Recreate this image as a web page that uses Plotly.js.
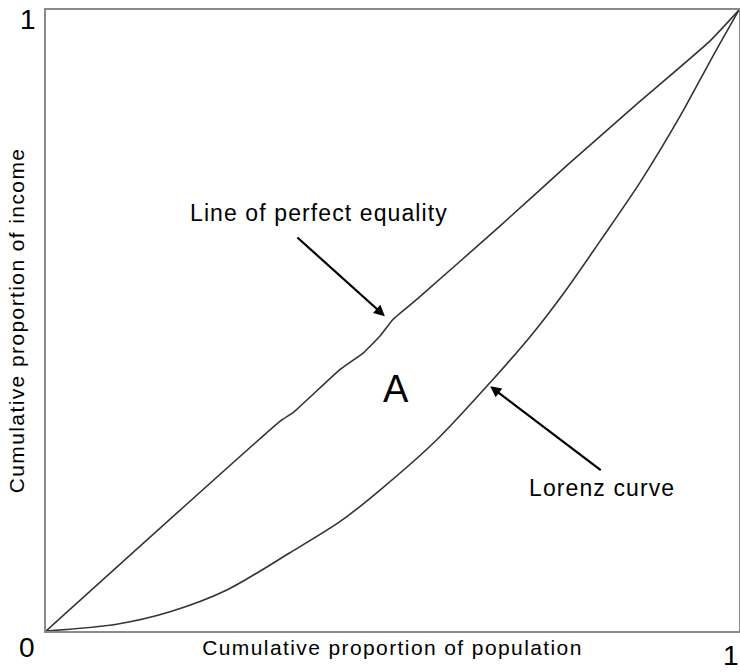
<!DOCTYPE html>
<html>
<head>
<meta charset="utf-8">
<script src="https://cdn.plot.ly/plotly-3.0.1.min.js"></script>
<style>
  body { margin: 0; background: #fff; }
  #plot { width: 740px; height: 672px; }
  .xtitle, .ytitle { letter-spacing: 1.4px; }
  .annotation-text { letter-spacing: 1.1px; }
</style>
</head>
<body>
<div id="plot"></div>
<script>
// line of perfect equality (drawn by hand in the original, so a bit wobbly)
var equalX = [0, 0.338, 0.357, 0.424, 0.458, 0.482, 0.501, 0.535, 0.655, 0.751, 0.852, 0.958, 1];
var equalY = [0, 0.338, 0.352, 0.421, 0.448, 0.475, 0.502, 0.534, 0.652, 0.749, 0.848, 0.950, 1];

// Lorenz curve
var lorenzX = [0, 0.102, 0.179, 0.261, 0.352, 0.424, 0.482, 0.564, 0.636, 0.703, 0.751, 0.799, 0.857, 0.915, 0.962, 1];
var lorenzY = [0, 0.011, 0.031, 0.066, 0.126, 0.176, 0.227, 0.308, 0.394, 0.480, 0.550, 0.627, 0.722, 0.829, 0.925, 1];

var lineColor = '#333333';
var fontFamily = 'Arial, "Liberation Sans", sans-serif';

function makePlot() {
  var equality = {
    x: equalX,
    y: equalY,
    mode: 'lines',
    type: 'scatter',
    line: { color: lineColor, width: 1.6, shape: 'spline', smoothing: 0.4 },
    hoverinfo: 'skip'
  };

  var lorenz = {
    x: lorenzX,
    y: lorenzY,
    mode: 'lines',
    type: 'scatter',
    line: { color: lineColor, width: 1.6, shape: 'spline', smoothing: 0.8 },
    hoverinfo: 'skip'
  };

  var tickFont = { family: fontFamily, size: 28, color: '#000' };
  var labelFont = { family: fontFamily, size: 23, color: '#000' };

  var layout = {
    width: 740,
    height: 672,
    showlegend: false,
    paper_bgcolor: '#ffffff',
    plot_bgcolor: '#ffffff',
    margin: { l: 46, r: 1, t: 10, b: 41, pad: 0 },
    xaxis: {
      range: [0, 1],
      showgrid: false,
      zeroline: false,
      showticklabels: false,
      ticks: '',
      showline: true,
      mirror: true,
      linecolor: '#8a8a8a',
      linewidth: 2,
      title: {
        text: 'Cumulative proportion of population',
        font: { family: fontFamily, size: 21, color: '#000' },
        standoff: 8
      }
    },
    yaxis: {
      range: [0, 1],
      showgrid: false,
      zeroline: false,
      showticklabels: false,
      ticks: '',
      showline: true,
      mirror: true,
      linecolor: '#8a8a8a',
      linewidth: 2,
      title: {
        text: 'Cumulative proportion of income',
        font: { family: fontFamily, size: 21, color: '#000' },
        standoff: 14
      }
    },
    annotations: [
      { xref: 'paper', yref: 'paper', x: -0.026, y: -0.026, text: '0', showarrow: false,
        xanchor: 'center', yanchor: 'middle', font: tickFont },
      { xref: 'paper', yref: 'paper', x: -0.025, y: 0.984, text: '1', showarrow: false,
        xanchor: 'center', yanchor: 'middle', font: tickFont },
      { xref: 'paper', yref: 'paper', x: 0.989, y: -0.039, text: '1', showarrow: false,
        xanchor: 'center', yanchor: 'middle', font: tickFont },
      { x: 0.394, y: 0.673, text: 'Line of perfect equality', showarrow: false,
        xanchor: 'center', yanchor: 'middle', font: labelFont },
      { x: 0.489, y: 0.507, ax: -89, ay: -80, text: '', showarrow: true,
        arrowhead: 2, arrowsize: 1, arrowwidth: 2.2, arrowcolor: '#000' },
      { x: 0.802, y: 0.231, text: 'Lorenz curve', showarrow: false,
        xanchor: 'center', yanchor: 'middle', font: labelFont },
      { x: 0.641, y: 0.394, ax: 112, ay: 85, text: '', showarrow: true,
        arrowhead: 2, arrowsize: 1, arrowwidth: 2.2, arrowcolor: '#000' },
      { x: 0.505, y: 0.389, text: 'A', showarrow: false,
        xanchor: 'center', yanchor: 'middle',
        font: { family: fontFamily, size: 38, color: '#000' } }
    ]
  };

  Plotly.newPlot('plot', [equality, lorenz], layout, { staticPlot: true });
}

makePlot();
</script>
</body>
</html>
